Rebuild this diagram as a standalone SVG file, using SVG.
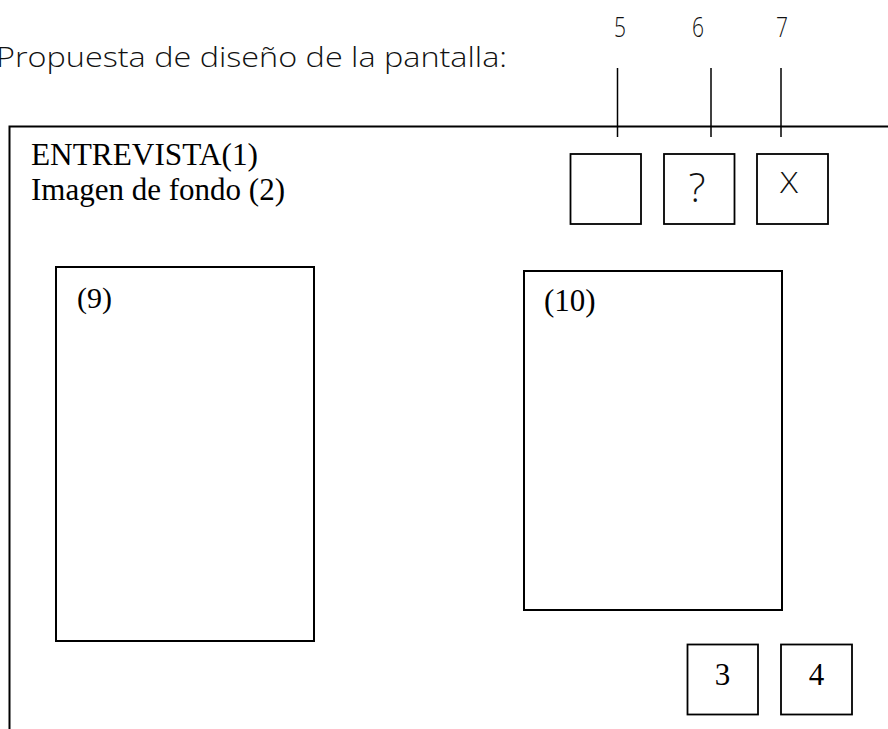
<svg xmlns="http://www.w3.org/2000/svg" width="888" height="729" viewBox="0 0 888 729">
<style>
.frame{fill:none;stroke:#000;stroke-width:2}
.box{fill:#fff;stroke:#000;stroke-width:1.8}
.ln{fill:none;stroke:#000;stroke-width:1.5}
.sans{font-family:"Open Sans","Liberation Sans",sans-serif;font-weight:300;fill:#111}
.serif{font-family:"Liberation Serif","Times New Roman",serif;fill:#000}
</style>
<rect width="888" height="729" fill="#fff"/>
<text class="sans" x="-4" y="67" font-size="27" textLength="511" lengthAdjust="spacingAndGlyphs">Propuesta de diseño de la pantalla:</text>
<g id="screen">
<path class="frame" d="M9.5 740 V126.5 H900"/>
<text class="serif" x="31" y="165" font-size="31" textLength="227" lengthAdjust="spacingAndGlyphs">ENTREVISTA(1)</text>
<text class="serif" x="31" y="200" font-size="31" textLength="254" lengthAdjust="spacingAndGlyphs">Imagen de fondo (2)</text>
</g>
<g id="connectors">
<line class="ln" x1="617.5" y1="68" x2="617.5" y2="137"/>
<line class="ln" x1="711" y1="68" x2="711" y2="137"/>
<line class="ln" x1="781" y1="68" x2="781" y2="137"/>
</g>
<g id="label5"><text class="sans" x="620" y="37" font-size="27" text-anchor="middle" textLength="12" lengthAdjust="spacingAndGlyphs">5</text></g>
<g id="label6"><text class="sans" x="698" y="37" font-size="27" text-anchor="middle" textLength="12" lengthAdjust="spacingAndGlyphs">6</text></g>
<g id="label7"><text class="sans" x="782" y="37" font-size="27" text-anchor="middle" textLength="12" lengthAdjust="spacingAndGlyphs">7</text></g>
<g id="btn5"><rect class="box" x="570.5" y="154" width="70.5" height="70"/></g>
<g id="btn6"><rect class="box" x="664" y="154" width="70.5" height="70"/>
<text class="sans" x="697" y="202" font-size="40" text-anchor="middle" textLength="17" lengthAdjust="spacingAndGlyphs">?</text></g>
<g id="btn7"><rect class="box" x="757" y="154" width="71" height="70"/>
<text class="sans" x="789" y="193" font-size="29" text-anchor="middle" textLength="18" lengthAdjust="spacingAndGlyphs">X</text></g>
<g id="panel9"><rect class="frame" x="56" y="267" width="258" height="374"/>
<text class="serif" x="77" y="308" font-size="30">(9)</text></g>
<g id="panel10"><rect class="frame" x="524" y="271" width="258" height="339"/>
<text class="serif" x="544" y="311" font-size="31">(10)</text></g>
<g id="btn3"><rect class="box" x="687.5" y="644.5" width="70.5" height="70"/>
<text class="serif" x="722.5" y="685" font-size="31" text-anchor="middle">3</text></g>
<g id="btn4"><rect class="box" x="781" y="644.5" width="71" height="70"/>
<text class="serif" x="816.5" y="685" font-size="31" text-anchor="middle">4</text></g>
</svg>
